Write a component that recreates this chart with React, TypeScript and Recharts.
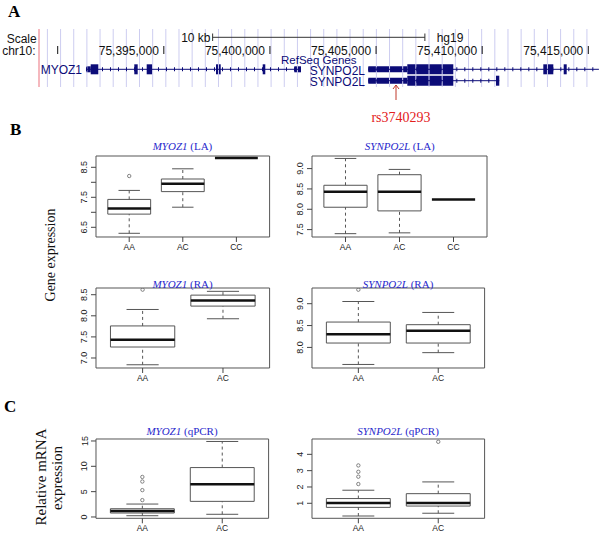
import { ReferenceArea, ReferenceLine, Scatter, ScatterChart, XAxis, YAxis } from "recharts";

const SANS = "'Liberation Sans', Arial, sans-serif";
const SERIF = "'Liberation Serif', 'Times New Roman', serif";
const NAVY = "#0c0c78";

// ---- panel A: genome browser track (hg19 chr10) ----
const coordTicks = [75390000, 75395000, 75400000, 75405000, 75410000, 75415000];
const coordLabels = ["", "75,395,000", "75,400,000", "75,405,000", "75,410,000", "75,415,000"];
const scaleBar = [75397300, 75407300];
const snpPos = 75405940;

// exons: [start, end, coding(1) / utr(0)]
const myoz1Span = [75391333, 75401464];
const myoz1Exons = [
  [75391333, 75391555, 0],
  [75391555, 75391913, 1],
  [75393609, 75393769, 1],
  [75394193, 75394457, 1],
  [75397459, 75397680, 1],
  [75399659, 75399781, 1],
  [75401148, 75401464, 0],
];
const synpo2lASpan = [75404635, 75415500];
const synpo2lAExons = [
  [75404635, 75406472, 0],
  [75406472, 75408639, 1],
  [75412880, 75413351, 1],
  [75413841, 75413982, 1],
];
const synpo2lBSpan = [75404635, 75410806];
const synpo2lBExons = [
  [75404635, 75406472, 0],
  [75406472, 75408639, 1],
  [75410651, 75410806, 1],
];

// ---- panels B/C: boxplot stats [lower whisker, Q1, median, Q3, upper whisker] ----
const genotypes3 = ["AA", "AC", "CC"];
const genotypes2 = ["AA", "AC"];

const myoz1LA = [
  [6.3, 6.94, 7.13, 7.43, 7.73],
  [7.17, 7.69, 7.95, 8.11, 8.45],
  [8.81, 8.81, 8.81, 8.81, 8.81],
];
const myoz1LAOut = [[1, 8.21]];

const synpo2lLA = [
  [7.4, 8.05, 8.43, 8.59, 9.25],
  [7.42, 7.96, 8.43, 8.85, 8.98],
  [8.24, 8.24, 8.24, 8.24, 8.24],
];
const synpo2lLAOut: number[][] = [];

const myoz1RA = [
  [6.84, 7.26, 7.43, 7.76, 8.15],
  [7.93, 8.23, 8.36, 8.49, 8.58],
];
const myoz1RAOut = [[1, 8.62]];

const synpo2lRA = [
  [7.61, 8.1, 8.3, 8.58, 9.05],
  [7.88, 8.1, 8.38, 8.52, 8.8],
];
const synpo2lRAOut = [[1, 9.32]];

const myoz1Q = [
  [0.25, 0.78, 1.18, 1.63, 2.55],
  [0.53, 3.08, 6.47, 9.75, 14.9],
];
const myoz1QOut = [[1, 3.33], [1, 5.3], [1, 7.0], [1, 7.9]];

const synpo2lQ = [
  [0.22, 0.75, 1.02, 1.29, 1.8],
  [0.39, 0.83, 1.02, 1.59, 2.31],
];
const synpo2lQOut = [[1, 2.18], [1, 2.63], [1, 2.93], [1, 3.32], [2, 4.77]];

const gridStep = 620;
const genomeDomain = [75389119, 75415551];
const gridLines: number[] = [];
for (let g = 75389515; g < genomeDomain[1]; g += gridStep) gridLines.push(g);

function CoordMark(p: any) {
  const label = p.payload.label;
  return (
    <g>
      <line x1={p.cx} x2={p.cx} y1={p.cy - 4} y2={p.cy + 4} stroke="#111" strokeWidth={1} />
      {label && (
        <text x={p.cx - 5} y={p.cy + 4.5} textAnchor="end" fontSize={12} fontFamily={SANS} fill="#111">
          {label}
        </text>
      )}
    </g>
  );
}

function SnpArrow(p: any) {
  return (
    <g stroke="#c0392b" strokeWidth={1} fill="none">
      <line x1={p.cx} x2={p.cx} y1={p.cy} y2={p.cy + 15} />
      <polyline points={`${p.cx - 3},${p.cy + 4} ${p.cx},${p.cy} ${p.cx + 3},${p.cy + 4}`} />
    </g>
  );
}

function Transcript({ span, exons, row }: { span: number[]; exons: number[][]; row: number }) {
  return (
    <>
      <ReferenceLine segment={[{ x: span[0], y: row }, { x: span[1], y: row }]} stroke={NAVY} strokeWidth={1} ifOverflow="visible" />
      <ReferenceLine
        segment={[{ x: span[0], y: row }, { x: span[1], y: row }]}
        stroke={NAVY}
        strokeWidth={4}
        strokeDasharray="1 7"
        ifOverflow="visible"
      />
      {exons.map(([s, e, c]) => (
        <ReferenceArea
          key={s}
          x1={s}
          x2={e}
          y1={row - (c ? 5 : 3)}
          y2={row + (c ? 5 : 3)}
          fill={NAVY}
          fillOpacity={1}
          stroke="none"
          ifOverflow="visible"
        />
      ))}
    </>
  );
}

function GenomeTrack() {
  const coordData = coordTicks.map((x, i) => ({ x, y: 25, label: coordLabels[i] }));
  return (
    <div style={{ position: "absolute", left: 0, top: 25 }}>
      <ScatterChart width={602} height={80} margin={{ top: 0, right: 2, bottom: 0, left: 39 }}>
        <XAxis type="number" dataKey="x" domain={genomeDomain} allowDataOverflow hide />
        <YAxis type="number" dataKey="y" domain={[0, 80]} reversed allowDataOverflow hide />
        {gridLines.map((g) => (
          <ReferenceLine key={g} segment={[{ x: g, y: 4 }, { x: g, y: 62 }]} stroke="#cdcdf0" ifOverflow="visible" />
        ))}
        <ReferenceLine
          segment={[{ x: genomeDomain[0], y: 4 }, { x: genomeDomain[0], y: 62 }]}
          stroke="#f2a0a8"
          strokeWidth={1.5}
          ifOverflow="visible"
        />
        <ReferenceLine segment={[{ x: scaleBar[0], y: 12.3 }, { x: scaleBar[1], y: 12.3 }]} stroke="#333" ifOverflow="visible" />
        <ReferenceLine segment={[{ x: scaleBar[0], y: 8.5 }, { x: scaleBar[0], y: 16 }]} stroke="#333" ifOverflow="visible" />
        <ReferenceLine segment={[{ x: scaleBar[1], y: 8.5 }, { x: scaleBar[1], y: 16 }]} stroke="#333" ifOverflow="visible" />
        <Transcript span={myoz1Span} exons={myoz1Exons} row={44.3} />
        <Transcript span={synpo2lASpan} exons={synpo2lAExons} row={44.3} />
        <Transcript span={synpo2lBSpan} exons={synpo2lBExons} row={55.7} />
        <Scatter data={coordData} shape={CoordMark} isAnimationActive={false} />
        <Scatter data={[{ x: snpPos, y: 60 }]} shape={SnpArrow} isAnimationActive={false} />
      </ScatterChart>
    </div>
  );
}

function YTick(p: any) {
  const v = p.payload.value;
  if (!p.labels.includes(v)) return <g />;
  return (
    <text
      x={p.x}
      y={p.y}
      transform={`rotate(-90 ${p.x} ${p.y})`}
      textAnchor="middle"
      fontSize={9}
      fontFamily={SANS}
      fill="#222"
    >
      {v.toFixed(p.dec)}
    </text>
  );
}

type PanelProps = {
  left: number;
  top: number;
  width: number;
  height: number;
  cats: string[];
  stats: number[][];
  out: number[][];
  yDomain: number[];
  yTicks: number[];
  yLabels: number[];
  dec: number;
};

function BoxPanel({ left, top, width, height, cats, stats, out, yDomain, yTicks, yLabels, dec }: PanelProps) {
  const xDomain = cats.length === 3 ? [0.38, 3.62] : [0.42, 2.58];
  const outData = out.map(([g, v]) => ({ x: g, y: v }));
  const grey = "#555";
  return (
    <div style={{ position: "absolute", left: left - 45, top: top - 5 }}>
      <ScatterChart width={width + 55} height={height + 30} margin={{ top: 5, right: 10, bottom: 0, left: 0 }}>
        <XAxis
          type="number"
          dataKey="x"
          domain={xDomain}
          allowDataOverflow
          ticks={cats.map((_, i) => i + 1)}
          interval={0}
          tickFormatter={(v: number) => cats[v - 1]}
          height={25}
          axisLine={false}
          tickLine={{ stroke: "#444" }}
          tickSize={5}
          tickMargin={2}
          tick={{ fontSize: 8.5, fill: "#222", fontFamily: SANS }}
        />
        <YAxis
          type="number"
          dataKey="y"
          domain={yDomain}
          allowDataOverflow
          ticks={yTicks}
          interval={0}
          width={45}
          axisLine={false}
          tickLine={{ stroke: "#444" }}
          tickSize={5}
          tickMargin={3.5}
          tick={(p: any) => <YTick {...p} labels={yLabels} dec={dec} />}
        />
        <ReferenceArea
          x1={xDomain[0]}
          x2={xDomain[1]}
          y1={yDomain[0]}
          y2={yDomain[1]}
          fill="none"
          stroke={grey}
          ifOverflow="visible"
        />
        {stats.map(([lo, q1, md, q3, hi], i) => {
          const x = i + 1;
          const flat = lo === hi;
          return (
            <g key={i}>
              {!flat && (
                <>
                  <ReferenceLine segment={[{ x, y: lo }, { x, y: q1 }]} stroke={grey} strokeDasharray="3 3" ifOverflow="visible" />
                  <ReferenceLine segment={[{ x, y: q3 }, { x, y: hi }]} stroke={grey} strokeDasharray="3 3" ifOverflow="visible" />
                  <ReferenceLine segment={[{ x: x - 0.2, y: lo }, { x: x + 0.2, y: lo }]} stroke={grey} ifOverflow="visible" />
                  <ReferenceLine segment={[{ x: x - 0.2, y: hi }, { x: x + 0.2, y: hi }]} stroke={grey} ifOverflow="visible" />
                  <ReferenceArea x1={x - 0.4} x2={x + 0.4} y1={q1} y2={q3} fill="none" stroke={grey} ifOverflow="visible" />
                </>
              )}
              <ReferenceLine segment={[{ x: x - 0.4, y: md }, { x: x + 0.4, y: md }]} stroke="#111" strokeWidth={2.5} ifOverflow="visible" />
            </g>
          );
        })}
        <Scatter
          data={outData}
          isAnimationActive={false}
          shape={(p: any) => <circle cx={p.cx} cy={p.cy} r={1.7} fill="none" stroke="#666" strokeWidth={0.8} />}
        />
      </ScatterChart>
    </div>
  );
}

function Title({ cx, y, gene, tissue }: { cx: number; y: number; gene: string; tissue: string }) {
  return (
    <text x={cx} y={y} textAnchor="middle" fontSize={11} fontFamily={SERIF} fill="#2828cc">
      <tspan fontStyle="italic">{gene}</tspan> {tissue}
    </text>
  );
}

export default function App() {
  return (
    <div style={{ position: "absolute", left: 0, top: 0, width: 602, height: 536, background: "#fff", overflow: "hidden" }}>
      <GenomeTrack />
      <BoxPanel left={95.7} top={155.7} width={173.6} height={81} cats={genotypes3} stats={myoz1LA} out={myoz1LAOut}
        yDomain={[6.177, 8.877]} yTicks={[6.5, 7, 7.5, 8, 8.5]} yLabels={[6.5, 7.5, 8.5]} dec={1} />
      <BoxPanel left={312.3} top={155.7} width={175} height={81} cats={genotypes3} stats={synpo2lLA} out={synpo2lLAOut}
        yDomain={[7.318, 9.31]} yTicks={[7.5, 8, 8.5, 9]} yLabels={[7.5, 8, 8.5, 9]} dec={1} />
      <BoxPanel left={95.7} top={288.3} width={173.6} height={80} cats={genotypes2} stats={myoz1RA} out={myoz1RAOut}
        yDomain={[6.763, 8.659]} yTicks={[7, 7.5, 8, 8.5]} yLabels={[7, 7.5, 8, 8.5]} dec={1} />
      <BoxPanel left={311.7} top={288.3} width={172.6} height={80} cats={genotypes2} stats={synpo2lRA} out={synpo2lRAOut}
        yDomain={[7.529, 9.359]} yTicks={[8, 8.5, 9]} yLabels={[8, 8.5, 9]} dec={1} />
      <BoxPanel left={95.7} top={439} width={172.6} height={79.3} cats={genotypes2} stats={myoz1Q} out={myoz1QOut}
        yDomain={[-0.26, 15.39]} yTicks={[0, 5, 10, 15]} yLabels={[0, 5, 10, 15]} dec={0} />
      <BoxPanel left={311.7} top={439} width={172.6} height={79.3} cats={genotypes2} stats={synpo2lQ} out={synpo2lQOut}
        yDomain={[0.08, 4.94]} yTicks={[1, 2, 3, 4]} yLabels={[1, 2, 3, 4]} dec={0} />

      <svg width={602} height={536} style={{ position: "absolute", left: 0, top: 0, pointerEvents: "none" }}>
        <g fontFamily={SERIF} fontWeight="bold" fontSize={17} fill="#000">
          <text x={8} y={17}>A</text>
          <text x={10} y={135}>B</text>
          <text x={4} y={412}>C</text>
        </g>
        <g fontFamily={SANS} fontSize={12} fill="#111">
          <text x={36.7} y={43} textAnchor="end">Scale</text>
          <text x={35.5} y={55} textAnchor="end">chr10:</text>
          <text x={210.5} y={42} textAnchor="end">10 kb</text>
          <text x={436.7} y={42}>hg19</text>
        </g>
        <g fontFamily={SANS} fill={NAVY}>
          <text x={82} y={74} textAnchor="end" fontSize={12}>MYOZ1</text>
          <text x={281} y={64.3} fontSize={11.5}>RefSeq Genes</text>
          <text x={365} y={74.5} textAnchor="end" fontSize={12}>SYNPO2L</text>
          <text x={365} y={85.8} textAnchor="end" fontSize={12}>SYNPO2L</text>
        </g>
        <text x={401} y={122} textAnchor="middle" fontFamily={SERIF} fontSize={14} fill="#e3201b">rs3740293</text>

        <Title cx={182.5} y={150} gene="MYOZ1" tissue="(LA)" />
        <Title cx={399.8} y={150} gene="SYNPO2L" tissue="(LA)" />
        <Title cx={182.5} y={287.5} gene="MYOZ1" tissue="(RA)" />
        <Title cx={398} y={287.5} gene="SYNPO2L" tissue="(RA)" />
        <Title cx={182} y={435} gene="MYOZ1" tissue="(qPCR)" />
        <Title cx={398} y={435} gene="SYNPO2L" tissue="(qPCR)" />

        <g fontFamily={SERIF} fill="#111" textAnchor="middle">
          <text x={55} y={255} fontSize={14} transform="rotate(-90 55 255)">Gene expression</text>
          <text x={45.5} y={477} fontSize={15} transform="rotate(-90 45.5 477)">Relative mRNA</text>
          <text x={61.5} y={478} fontSize={15} transform="rotate(-90 61.5 478)">expression</text>
        </g>
      </svg>
    </div>
  );
}
